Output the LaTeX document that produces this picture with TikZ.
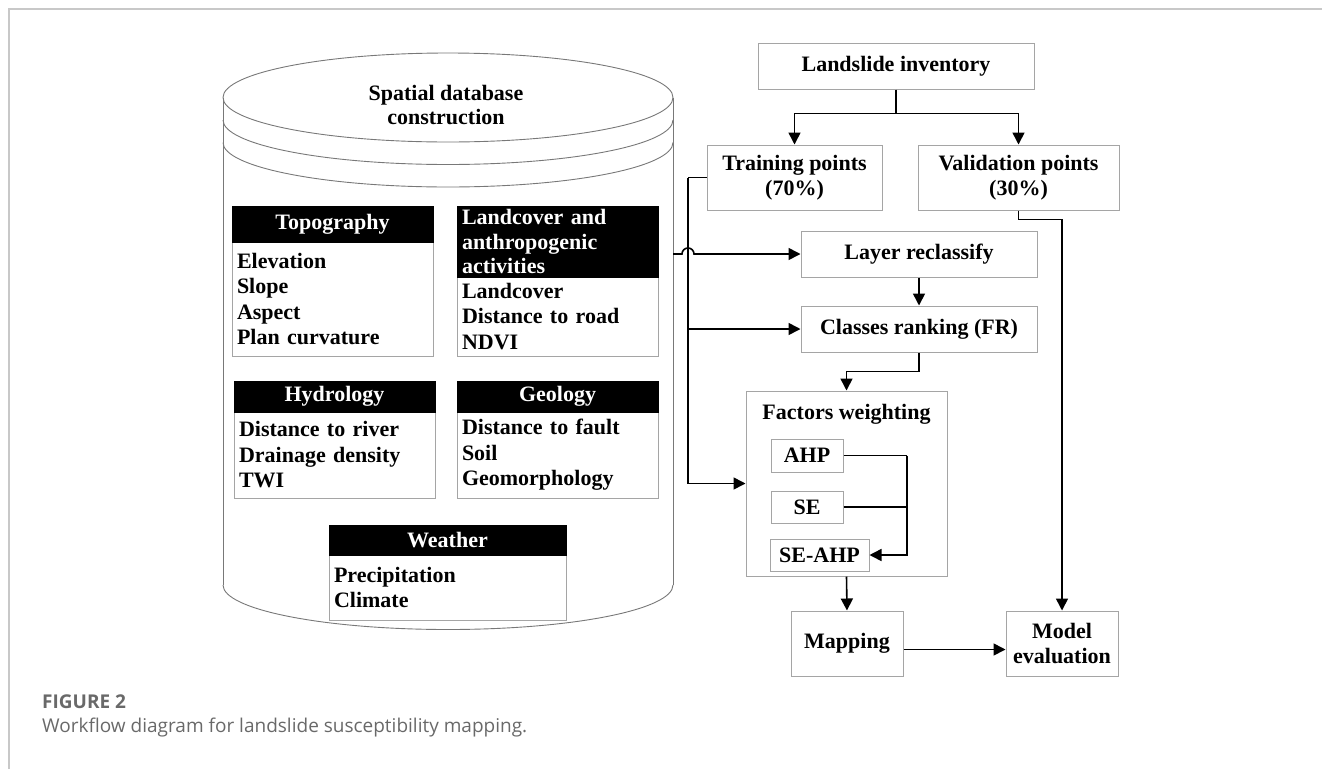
\documentclass[tikz,border=0pt]{standalone}
\usepackage{fontspec}
\setmainfont{Liberation Serif}
\newfontfamily\capfont{Open Sans}
\usepackage{tikz}
\usetikzlibrary{arrows.meta,calc}
\definecolor{framegray}{RGB}{200,200,200}
\definecolor{boxgray}{RGB}{165,165,165}
\definecolor{cylgray}{RGB}{120,120,120}
\definecolor{captext}{RGB}{105,105,105}
\tikzstyle{head}=[rectangle,fill=black,draw=black,text=white,inner sep=0pt,font=\fontsize{22}{24.5}\selectfont\bfseries]
\tikzstyle{body}=[rectangle,draw=boxgray,line width=1pt,inner xsep=5pt,inner ysep=0pt,align=left,font=\fontsize{22}{25.5}\selectfont\bfseries]
\tikzstyle{box}=[rectangle,draw=boxgray,line width=1pt,inner sep=0pt,align=center,font=\fontsize{22}{25.5}\selectfont\bfseries]
\tikzstyle{cyl}=[draw=cylgray,line width=0.9pt]
\tikzstyle{wire}=[draw,line width=1.6pt,-]
\tikzstyle{dwire}=[draw,line width=1.6pt,-{Triangle[length=12pt,width=12pt]}]

\begin{document}
\begin{tikzpicture}[x=1pt,y=-1pt]
  \useasboundingbox (0,0) rectangle (1322,769);
  \draw[framegray,line width=1.5pt] (9,769) -- (9,9) -- (1322,9);

  % database cylinder
  \draw[cyl] (448,97.5) ellipse (225 and 44.5);
  \draw[cyl] (223,97.5) -- (223,585);
  \draw[cyl] (673,97.5) -- (673,585);
  \draw[cyl] (223,120) arc[start angle=180,end angle=0,x radius=225,y radius=44.5];
  \draw[cyl] (223,142.5) arc[start angle=180,end angle=0,x radius=225,y radius=44.5];
  \draw[cyl] (223,585) arc[start angle=180,end angle=0,x radius=225,y radius=44.5];
  \node[align=center,font=\fontsize{22}{24}\selectfont\bfseries] (sdb) at (446,105) {Spatial database\\construction};

  % factor groups
  \node[body,text width=191pt,minimum height=114pt] (topo) at (332.5,299) {Elevation\\Slope\\Aspect\\Plan curvature};
  \node[head,minimum width=201pt,minimum height=36pt] (topoh) at (332.5,224) {Topography};

  \node[body,text width=191pt,minimum height=79pt] (land) at (557.5,316.5) {Landcover\\Distance to road\\NDVI};
  \node[head,inner xsep=5pt,text width=191pt,align=left,minimum height=71pt] (landh) at (557.5,241.5) {Landcover and\\anthropogenic\\activities};

  \node[body,text width=191pt,minimum height=86pt] (hydro) at (334.5,455) {Distance to river\\Drainage density\\TWI};
  \node[head,minimum width=201pt,minimum height=31pt] (hydroh) at (334.5,396.5) {Hydrology};

  \node[body,text width=191pt,minimum height=86pt] (geo) at (557.5,455) {Distance to fault\\Soil\\Geomorphology};
  \node[head,minimum width=201pt,minimum height=31pt] (geoh) at (557.5,396.5) {Geology};

  \node[body,text width=227pt,minimum height=65pt] (wea) at (447.5,587.5) {Precipitation\\Climate};
  \node[head,minimum width=237pt,minimum height=30pt] (weah) at (447.5,540) {Weather};

  % workflow
  \node[box,minimum width=276pt,minimum height=46pt] (inv) at (896,66) {Landslide inventory};
  \node[box,minimum width=175pt,minimum height=65pt] (train) at (794.5,177.5) {Training points\\(70\%)};
  \node[box,minimum width=201pt,minimum height=65pt] (valid) at (1018.5,177.5) {Validation points\\(30\%)};
  \node[box,minimum width=236pt,minimum height=46pt] (layer) at (919,254) {Layer reclassify};
  \node[box,minimum width=236pt,minimum height=46pt] (classes) at (919,329) {Classes ranking (FR)};
  \node[box,minimum width=201pt,minimum height=185pt] (factors) at (846.5,483.5) {};
  \node[font=\fontsize{22}{25.5}\selectfont\bfseries] (ftitle) at (846.5,414) {Factors weighting};
  \node[box,minimum width=72pt,minimum height=33pt] (ahp) at (807,455.5) {AHP};
  \node[box,minimum width=72pt,minimum height=32pt] (se) at (807,507) {SE};
  \node[box,minimum width=99pt,minimum height=32pt] (seahp) at (819.5,555) {SE-AHP};
  \node[box,minimum width=112pt,minimum height=65pt] (mapping) at (847,643.5) {Mapping};
  \node[box,minimum width=112pt,minimum height=65pt] (model) at (1062,643.5) {Model\\evaluation};

  \coordinate (cylR) at (673,254);
  \coordinate (bus) at (688,0);
  \coordinate (wbus) at (907,0);

  \path[wire] (inv.south) -- ++(0,24) coordinate (split);
  \path[dwire] (split) -| (train.north);
  \path[dwire] (split) -| (valid.north);

  \path[wire] (train.west) -- (train.west -| bus);
  \path[dwire] (train.west -| bus) |- (factors.west);
  \path[dwire] (bus |- classes.west) -- (classes.west);
  \path[dwire] (cylR) -- ($(bus |- layer.west)+(-6,0)$) arc[start angle=180,end angle=360,radius=6] -- (layer.west);

  \path[dwire] (layer) -- (classes);
  \path[dwire] (classes.south) -- ++(0,19) -| (factors.north);

  \path[wire] (ahp.east) -- (ahp.east -| wbus);
  \path[dwire] (ahp.east -| wbus) |- (seahp.east);
  \path[wire] (se.east) -- (se.east -| wbus);

  \path[dwire] (factors.south) -- (mapping.north);
  \path[dwire] ([yshift=-6pt]mapping.east) -- ([yshift=-6pt]model.west);
  \path[dwire] (valid.south) -- ++(0,9) -| (model.north);

  % caption
  \node[anchor=base west,inner sep=0pt,text=captext,font=\capfont\fontsize{19}{19}\selectfont\bfseries] (fig) at (42,708) {FIGURE 2};
  \node[anchor=base west,inner sep=0pt,text=captext,font=\capfont\fontsize{19}{19}\selectfont] (cap) at (42,732) {Workflow diagram for landslide susceptibility mapping.};
\end{tikzpicture}
\end{document}
